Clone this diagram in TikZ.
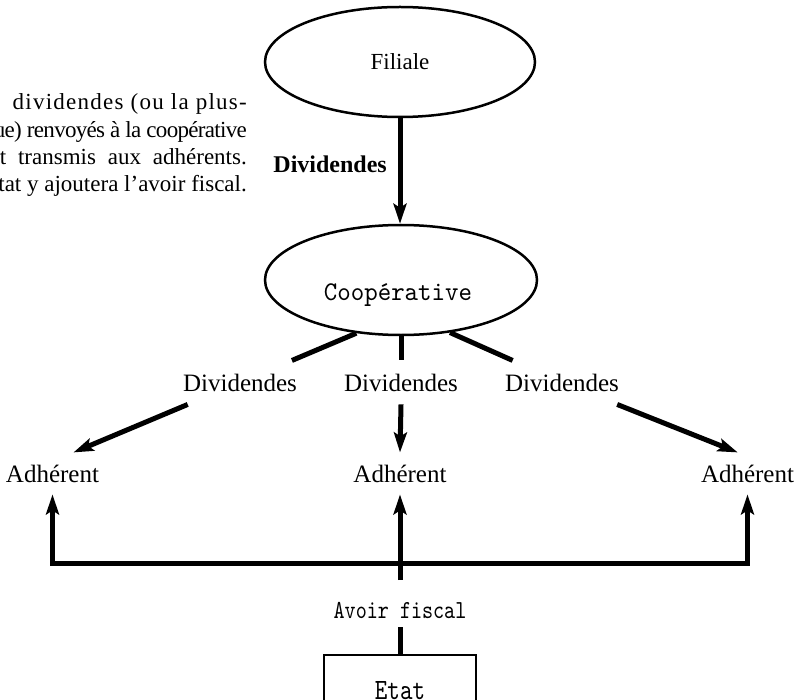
\documentclass[tikz,border=0pt]{standalone}
\usepackage{fontspec}
\setmainfont{Liberation Serif}
\newfontfamily\monoA[FakeStretch=0.95]{lmmono10-regular.otf}
\newfontfamily\monoB[FakeStretch=0.81]{lmmono10-regular.otf}
\usetikzlibrary{arrows.meta,shapes.geometric}
\begin{document}
\begin{tikzpicture}[x=1pt,y=-1pt,
 thk/.style={line width=5pt},
 arr/.style={line width=5pt,-{Stealth[length=20pt,width=13pt,inset=4pt]}},
 oval/.style={ellipse,draw,line width=2.5pt,inner sep=0pt},
 lab/.style={font=\fontsize{25}{25}\selectfont,inner xsep=3pt,inner ysep=13pt,anchor=base},
 adh/.style={font=\fontsize{25}{25}\selectfont,inner xsep=3pt,inner ysep=12pt,anchor=base},
 para/.style={font=\fontsize{23}{23}\selectfont,inner sep=0pt,anchor=base east}]
\useasboundingbox (0,0) rectangle (799,700);
\clip (0,0) rectangle (799,700);
% paragraph (cut at the left edge)
\node[para] (p1) at (247,110) {\addfontfeatures{LetterSpace=5.5}dividendes (ou la plus-};
\node[para] (p2) at (247,138) {\addfontfeatures{LetterSpace=-3}ue) renvoyés à la coopérative};
\node[para] (p3) at (247,165) {\makebox[247pt][s]{t transmis aux adhérents.}};
\node[para] (p4) at (247,192) {tat y ajoutera l’avoir fiscal.};
% ellipses
\node[oval,minimum width=270pt,minimum height=110pt,font=\fontsize{23}{23}\selectfont] (fil) at (400,62) {Filiale};
\node[oval,minimum width=272pt,minimum height=110pt] (coop) at (401,280) {};
\node[font=\monoA\fontsize{27}{27}\selectfont,anchor=base,inner sep=0pt] (coopt) at (398,300) {Coopérative};
\node[font=\bfseries\fontsize{24}{24}\selectfont,anchor=base east,inner sep=0pt] (divb) at (387,173) {Dividendes};
\draw[arr] (fil.south) -- (fil.south |- coop.north);
% dividend labels
\node[lab] (dl) at (240,391) {Dividendes};
\node[lab] (dm) at (401,391) {Dividendes};
\node[lab] (dr) at (562,391) {Dividendes};
% members
\node[adh] (al) at (52.5,482) {Adhérent};
\node[adh] (am) at (400,482) {Adhérent};
\node[adh] (ar) at (747.5,482) {Adhérent};
% connectors from cooperative
\draw[thk] (coop.230) -- (dl);
\draw[thk] (coop.south) -- (coop.south |- dm.north);
\draw[thk] (coop.313) -- (dr);
\draw[arr] (dl) -- (al.45);
\draw[arr] (dm.south) -- (am.north);
\draw[arr] (dr) -- (ar.115);
% state and tax credit
\node[font=\monoB\fontsize{26}{26}\selectfont,anchor=base,inner sep=0pt] (af) at (400,618) {Avoir fiscal};
\node[draw,line width=2.5pt,minimum width=152pt,minimum height=72pt,font=\monoB\fontsize{29.5}{29.5}\selectfont] (etat) at (400,691) {Etat};
\coordinate (bar) at (400,563);
\coordinate (afup) at (400,580);
\coordinate (afdn) at (400,627);
\draw[line width=5pt,line join=miter,{Stealth[length=20pt,width=13pt,inset=4pt]}-{Stealth[length=20pt,width=13pt,inset=4pt]}] (al.south) |- (bar) -| (ar.south);
\draw[arr] (afup) -- (am.south);
\draw[thk] (afdn) -- (etat.north);
\end{tikzpicture}
\end{document}
